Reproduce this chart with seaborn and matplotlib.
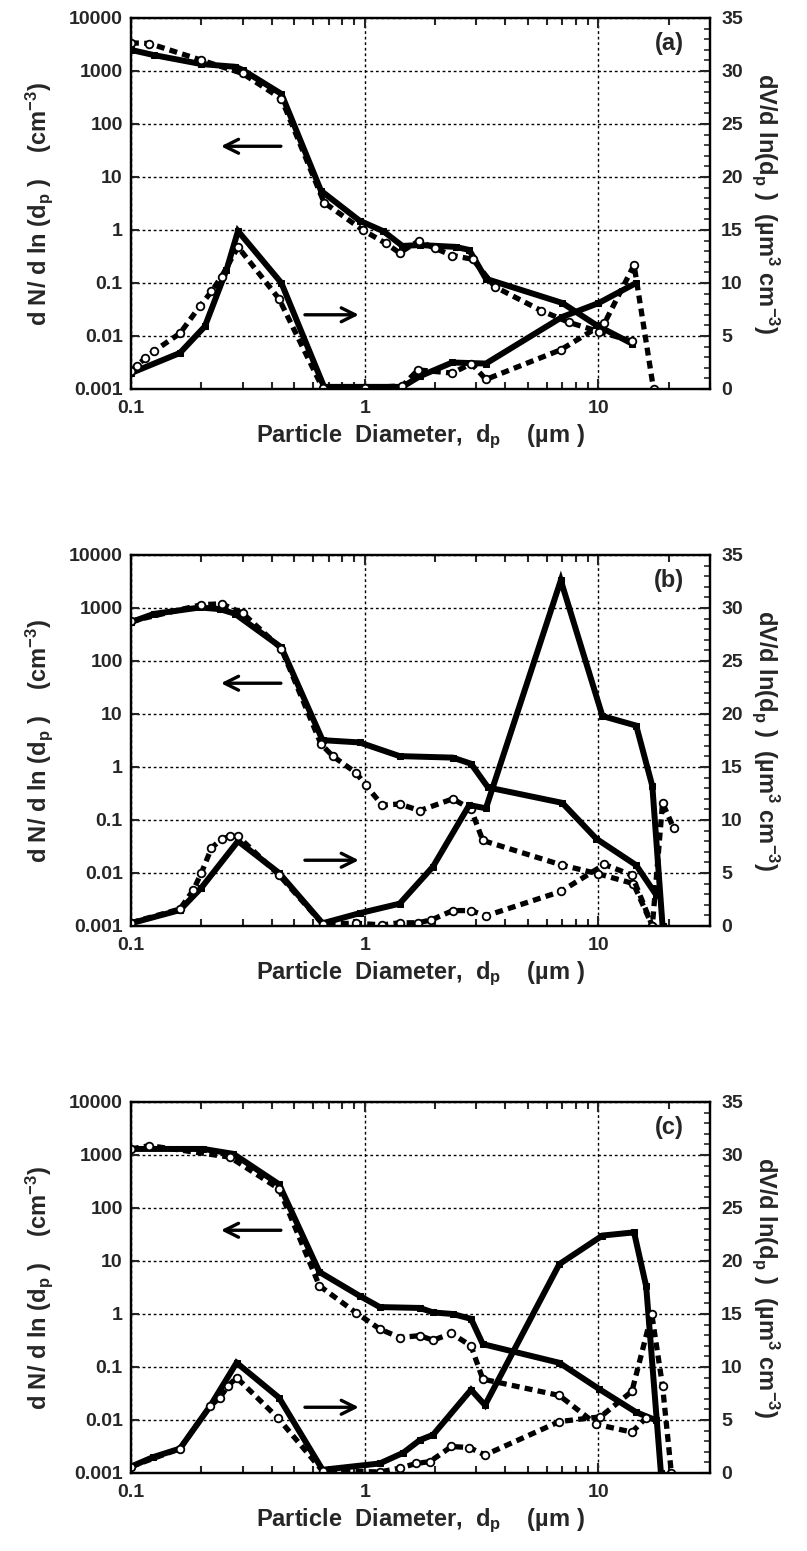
import matplotlib
matplotlib.use("Agg")
import matplotlib.pyplot as plt
import matplotlib.ticker as mticker
import seaborn as sns

# ---- panel (a) ----
a_x_num_solid = [0.1, 0.125, 0.2, 0.28, 0.3, 0.44, 0.65, 0.95, 1.2, 1.45, 1.72, 2.45, 2.8, 3.3, 7.0, 9.8, 13.9]
a_num_solid = [2500, 2000, 1350, 1200, 1050, 370, 5.5, 1.5, 0.95, 0.5, 0.52, 0.48, 0.42, 0.12, 0.042, 0.016, 0.0072]
a_x_num_dash = [0.1, 0.12, 0.2, 0.3, 0.44, 0.67, 0.98, 1.23, 1.41, 1.7, 2.0, 2.37, 2.9, 3.6, 5.7, 7.5, 10.1, 13.9]
a_num_dash = [3400, 3300, 1600, 900, 300, 3.3, 1.0, 0.56, 0.37, 0.62, 0.45, 0.33, 0.28, 0.085, 0.03, 0.018, 0.012, 0.008]
a_x_vol_solid = [0.1, 0.162, 0.207, 0.256, 0.287, 0.44, 0.67, 1.0, 1.45, 1.72, 2.37, 3.3, 7.0, 10.0, 14.5]
a_vol_solid = [1.5, 3.4, 5.9, 11.2, 14.9, 10.0, 0.2, 0.2, 0.2, 1.2, 2.5, 2.4, 6.8, 8.1, 10.0]
a_x_vol_dash = [0.1, 0.106, 0.115, 0.126, 0.162, 0.197, 0.221, 0.244, 0.287, 0.43, 0.66, 1.0, 1.45,
                1.69, 2.37, 2.86, 3.3, 6.9, 10.6, 14.2, 17.2]
a_vol_dash = [1.7, 2.2, 2.9, 3.6, 5.25, 7.8, 9.2, 10.6, 13.4, 8.5, 0.1, 0.1, 0.3,
              1.8, 1.5, 2.4, 0.9, 3.7, 6.2, 11.7, 0.0]

# ---- panel (b) ----
b_x_num_solid = [0.1, 0.125, 0.197, 0.24, 0.278, 0.44, 0.66, 0.95, 1.41, 2.38, 2.85, 3.37, 7.0, 9.8, 14.5, 17.7]
b_num_solid = [540, 770, 1020, 950, 780, 180, 3.2, 2.9, 1.6, 1.5, 1.15, 0.41, 0.21, 0.044, 0.014, 0.0038]
b_x_num_dash = [0.1, 0.2, 0.244, 0.3, 0.44, 0.65, 0.73, 0.92, 1.01, 1.19, 1.41, 1.72, 2.38, 2.85, 3.2,
                7.0, 10.0, 14.1, 17.0]
b_num_dash = [560, 1150, 1200, 800, 170, 2.7, 1.6, 0.77, 0.45, 0.19, 0.2, 0.15, 0.25, 0.16, 0.041,
              0.014, 0.0096, 0.0063, 0.001]
b_x_vol_solid = [0.1, 0.162, 0.2, 0.287, 0.43, 0.66, 0.95, 1.41, 1.96, 2.8, 3.3, 6.9, 10.4, 14.5, 17.0, 18.8]
b_vol_solid = [0.25, 1.5, 3.6, 8.0, 5.0, 0.25, 1.2, 2.1, 5.6, 11.4, 11.1, 32.6, 19.8, 18.9, 13.2, 0.0]
b_x_vol_dash = [0.1, 0.162, 0.185, 0.2, 0.221, 0.244, 0.265, 0.287, 0.43, 0.66, 0.92, 1.19, 1.41, 1.69,
                1.93, 2.38, 2.85, 3.3, 6.9, 10.6, 13.9, 17.0, 18.8, 21.0]
b_vol_dash = [0.3, 1.6, 3.4, 5.0, 7.35, 8.2, 8.45, 8.45, 4.8, 0.2, 0.25, 0.1, 0.3, 0.3,
              0.57, 1.45, 1.45, 0.95, 3.25, 5.8, 4.8, 0.0, 11.6, 9.2]

# ---- panel (c) ----
c_x_num_solid = [0.1, 0.204, 0.274, 0.43, 0.64, 0.95, 1.16, 1.72, 1.96, 2.38, 2.85, 3.2, 6.8, 10.1, 14.5, 17.7]
c_num_solid = [1300, 1300, 1050, 280, 6.2, 2.2, 1.35, 1.3, 1.07, 1.0, 0.81, 0.27, 0.12, 0.038, 0.014, 0.0098]
c_x_num_dash = [0.1, 0.12, 0.265, 0.43, 0.64, 0.92, 1.16, 1.41, 1.72, 1.96, 2.35, 2.85, 3.2, 6.8, 9.8, 13.9, 16.0]
c_num_dash = [1300, 1500, 910, 230, 3.4, 1.05, 0.52, 0.36, 0.39, 0.32, 0.43, 0.25, 0.059, 0.029, 0.0083,
              0.0059, 0.011]
c_x_vol_solid = [0.1, 0.1245, 0.162, 0.218, 0.283, 0.43, 0.66, 1.16, 1.46, 1.72, 1.96, 2.85, 3.27, 6.8,
                 10.4, 14.2, 16.0, 18.5]
c_vol_solid = [0.6, 1.5, 2.3, 6.3, 10.4, 7.1, 0.3, 0.9, 1.9, 3.1, 3.6, 7.85, 6.4, 19.7, 22.4, 22.7, 17.6, 0.0]
c_x_vol_dash = [0.1, 0.162, 0.218, 0.24, 0.26, 0.283, 0.425, 0.66, 1.16, 1.41, 1.66, 1.9, 2.35, 2.8, 3.27,
                6.8, 10.2, 13.9, 16.9, 18.8, 20.5]
c_vol_dash = [0.6, 2.3, 6.3, 7.1, 8.2, 9.0, 5.2, 0.2, 0.1, 0.45, 0.9, 1.07, 2.5, 2.4, 1.7,
              4.85, 5.3, 7.7, 15.0, 8.2, 0.0]

panel_labels = ["(a)", "(b)", "(c)"]
y_ticks_left = [0.001, 0.01, 0.1, 1, 10, 100, 1000, 10000]
y_ticklabels_left = ["0.001", "0.01", "0.1", "1", "10", "100", "1000", "10000"]
x_ticks = [0.1, 1, 10]
x_ticklabels = ["0.1", "1", "10"]

panels = [
    (a_x_num_solid, a_num_solid, a_x_num_dash, a_num_dash, a_x_vol_solid, a_vol_solid, a_x_vol_dash, a_vol_dash),
    (b_x_num_solid, b_num_solid, b_x_num_dash, b_num_dash, b_x_vol_solid, b_vol_solid, b_x_vol_dash, b_vol_dash),
    (c_x_num_solid, c_num_solid, c_x_num_dash, c_num_dash, c_x_vol_solid, c_vol_solid, c_x_vol_dash, c_vol_dash),
]

sns.set_style("ticks")
plt.rcParams['font.family'] = ['Liberation Sans', 'DejaVu Sans']
plt.rcParams['mathtext.default'] = 'regular'

tick_font = dict(family=['Liberation Sans', 'DejaVu Sans'], weight='bold', size=14)

fig = plt.figure(figsize=(8.07, 15.51), dpi=100)
bottoms = [0.7492, 0.4030, 0.0503]
left, width, height = 0.1623, 0.7175, 0.2392

solid_kw = dict(color='black', linewidth=4.3, linestyle='-', marker='s', markersize=4,
                markerfacecolor='black', markeredgecolor='black', solid_joinstyle='miter')
dash_kw = dict(color='black', linewidth=3.8, linestyle=(0, (1.5, 1.0)), marker='o', markersize=5.5,
               markerfacecolor='white', markeredgecolor='black', markeredgewidth=1.3)
arrow_style = dict(arrowstyle='->,head_length=1.0,head_width=0.5', color='black', lw=2.4)

for i, (bot, data) in enumerate(zip(bottoms, panels)):
    xns, ns, xnd, nd, xvs, vs, xvd, vd = data
    ax = fig.add_axes([left, bot, width, height])
    ax2 = ax.twinx()

    sns.lineplot(x=xns, y=ns, ax=ax, sort=False, estimator=None, **solid_kw)
    sns.lineplot(x=xnd, y=nd, ax=ax, sort=False, estimator=None, **dash_kw)
    sns.lineplot(x=xvs, y=vs, ax=ax2, sort=False, estimator=None, **solid_kw)
    sns.lineplot(x=xvd, y=vd, ax=ax2, sort=False, estimator=None, **dash_kw)

    ax.set_xscale('log')
    ax.set_yscale('log')
    ax.set_xlim(0.1, 30)
    ax.set_ylim(0.001, 10000)
    ax2.set_ylim(0, 35)

    ax.set_yticks(y_ticks_left)
    ax.set_yticklabels(y_ticklabels_left, fontdict=tick_font)
    ax.yaxis.set_minor_locator(mticker.NullLocator())
    ax.set_xticks(x_ticks)
    ax.set_xticklabels(x_ticklabels, fontdict=tick_font)
    ax.xaxis.set_minor_locator(mticker.LogLocator(base=10, subs=range(2, 10)))
    ax.xaxis.set_minor_formatter(mticker.NullFormatter())
    ax.tick_params(axis='x', which='both', direction='in', top=True, length=7, width=1.5, pad=8)
    ax.tick_params(axis='x', which='minor', length=5)
    ax.tick_params(axis='y', which='both', direction='in', length=6, width=1.5, pad=6)

    ax2.set_yticks(range(0, 36, 5))
    ax2.set_yticklabels([str(v) for v in range(0, 36, 5)], fontdict=tick_font)
    ax2.yaxis.set_minor_locator(mticker.MultipleLocator(1))
    ax2.tick_params(axis='y', which='major', direction='in', length=7, width=1.5, pad=8)
    ax2.tick_params(axis='y', which='minor', direction='in', length=4, width=1.2)

    ax.grid(True, which='major', color='black', linestyle=(0, (2, 2)), linewidth=1.0)
    ax.set_axisbelow(True)
    for sp in list(ax.spines.values()) + list(ax2.spines.values()):
        sp.set_linewidth(1.6)
        sp.set_color('black')

    ax.set_ylabel("d N/ d ln (d$_p$ )    (cm$^{-3}$)", fontsize=17, fontweight='bold', labelpad=10)
    ax2.set_ylabel("dV/d ln(d$_p$ )  (\u00b5m$^3$ cm$^{-3}$)", fontsize=17, fontweight='bold',
                   rotation=-90, labelpad=28)
    ax.set_xlabel("Particle  Diameter,  d$_p$    (\u00b5m )", fontsize=17, fontweight='bold', labelpad=4)

    ax.text(0.955, 0.93, panel_labels[i], transform=ax.transAxes, ha='right', va='center',
            fontsize=17, fontweight='bold')

    # direction arrows
    ax.annotate("", xy=(0.236, 38), xytext=(0.45, 38), arrowprops=arrow_style)
    v_arrow = 7.0 if i == 0 else 6.2
    ax2.annotate("", xy=(0.97, v_arrow), xytext=(0.54, v_arrow), arrowprops=arrow_style)

fig.savefig("out.png", dpi=100)
